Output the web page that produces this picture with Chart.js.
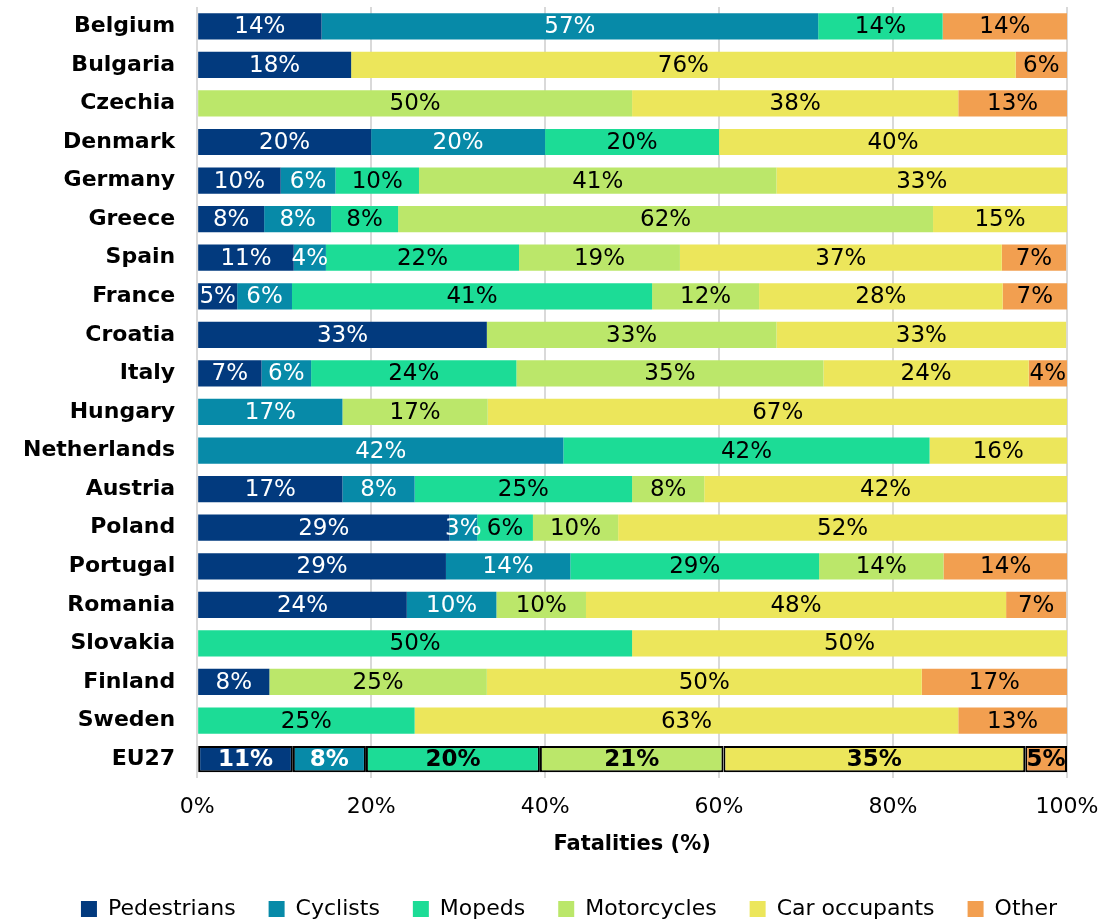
<!DOCTYPE html>
<html>
<head>
<meta charset="utf-8">
<script src="https://cdn.jsdelivr.net/npm/chart.js@4.4.1/dist/chart.umd.min.js"></script>
<style>
  body { margin: 0; background: #fff; }
  #wrap { width: 1105px; height: 922px; }
</style>
</head>
<body>
<div id="wrap"><canvas id="chart" width="1105" height="922"></canvas></div>
<script>
// Countries, top to bottom
const countries = ['Belgium', 'Bulgaria', 'Czechia', 'Denmark', 'Germany', 'Greece', 'Spain', 'France',
  'Croatia', 'Italy', 'Hungary', 'Netherlands', 'Austria', 'Poland', 'Portugal', 'Romania',
  'Slovakia', 'Finland', 'Sweden', 'EU27'];

// Share of fatalities (%) per road user group
const pedestrians  = [14.3, 17.7, 0, 20, 9.6, 7.7, 11.1, 4.6, 33.3, 7.4, 0, 0, 16.7, 29.0, 28.6, 24.1, 0, 8.3, 0, 11.0];
const cyclists     = [57.1, 0, 0, 20, 6.3, 7.7, 3.7, 6.3, 0, 5.7, 16.7, 42.1, 8.3, 3.2, 14.3, 10.3, 0, 0, 0, 8.4];
const mopeds       = [14.3, 0, 0, 20, 9.6, 7.7, 22.2, 41.4, 0, 23.6, 0, 42.1, 25, 6.4, 28.6, 0, 50, 0, 25, 20.0];
const motorcycles  = [0, 0, 50, 0, 41.1, 61.5, 18.5, 12.3, 33.3, 35.3, 16.7, 0, 8.3, 9.8, 14.3, 10.3, 0, 25, 0, 21.1];
const carOccupants = [0, 76.4, 37.5, 40, 33.4, 15.4, 37.0, 28.0, 33.3, 23.6, 66.7, 15.8, 41.7, 51.6, 0, 48.3, 50, 50, 62.5, 34.7];
const other        = [14.3, 5.9, 12.5, 0, 0, 0, 7.4, 7.4, 0, 4.4, 0, 0, 0, 0, 14.3, 6.9, 0, 16.7, 12.5, 4.8];

const xTicks = [0, 20, 40, 60, 80, 100];

const FONT = 'Verdana, "DejaVu Sans", sans-serif';
const lastIdx = countries.length - 1;

function series(label, data, color, labelColor) {
  return {
    label: label,
    data: data,
    backgroundColor: color,
    borderColor: data.map((v, i) => i === lastIdx ? '#000' : color),
    borderWidth: data.map((v, i) => i === lastIdx ? 2 : 0),
    borderSkipped: false,
    labelColor: labelColor
  };
}

// draw value labels in the middle of each segment
const valueLabels = {
  id: 'valueLabels',
  afterLayout(chart) {
    // legend sits a bit right of the canvas centre
    chart.legend.left += 35;
    chart.legend.right += 35;
  },
  afterDatasetsDraw(chart) {
    const ctx = chart.ctx;
    ctx.save();
    ctx.textAlign = 'center';
    ctx.textBaseline = 'middle';
    chart.data.datasets.forEach((ds, di) => {
      const meta = chart.getDatasetMeta(di);
      meta.data.forEach((bar, i) => {
        const v = ds.data[i];
        if (!v) return;
        ctx.font = (i === lastIdx ? 'bold ' : '') + '23px ' + FONT;
        ctx.fillStyle = ds.labelColor;
        ctx.fillText(Math.round(v) + '%', (bar.x + bar.base) / 2, bar.y + 1);
      });
    });
    ctx.restore();
  }
};

new Chart(document.getElementById('chart'), {
  type: 'bar',
  data: {
    labels: countries,
    datasets: [
      series('Pedestrians', pedestrians, '#023A7E', '#fff'),
      series('Cyclists', cyclists, '#078AA8', '#fff'),
      series('Mopeds', mopeds, '#1CDC96', '#000'),
      series('Motorcycles', motorcycles, '#BBE76A', '#000'),
      series('Car occupants', carOccupants, '#ECE65B', '#000'),
      series('Other', other, '#F29F50', '#000')
    ]
  },
  options: {
    indexAxis: 'y',
    responsive: false,
    animation: false,
    layout: { padding: { top: 7, right: 38, left: 1, bottom: -8 } },
    datasets: { bar: { barPercentage: 1, categoryPercentage: 0.68 } },
    scales: {
      x: {
        stacked: true,
        min: 0,
        max: 100,
        afterBuildTicks: axis => { axis.ticks = xTicks.map(v => ({ value: v })); },
        afterFit: axis => { axis.paddingLeft = 0; axis.paddingRight = 0; },
        ticks: { callback: v => v + '%', color: '#000', font: { family: FONT, size: 22 }, padding: 16 },
        grid: { color: '#d9d9d9', lineWidth: 2, drawTicks: false },
        border: { display: false },
        title: { display: true, text: 'Fatalities (%)', color: '#000', font: { family: FONT, size: 21, weight: 'bold' }, padding: { top: -5, bottom: 8 } }
      },
      y: {
        stacked: true,
        afterFit: axis => { axis.paddingTop = 0; axis.paddingBottom = 0; },
        ticks: { color: '#000', font: { family: FONT, size: 22, weight: 'bold' }, padding: 22 },
        grid: { display: false, drawTicks: false },
        border: { display: false }
      }
    },
    plugins: {
      legend: {
        position: 'bottom',
        labels: { color: '#000', font: { family: FONT, size: 22 }, boxWidth: 16, boxHeight: 16, padding: 33,
          generateLabels: chart => chart.data.datasets.map((ds, i) => ({
            text: ds.label, fillStyle: ds.backgroundColor, strokeStyle: ds.backgroundColor, lineWidth: 0, datasetIndex: i
          }))
        }
      },
      tooltip: { enabled: false }
    }
  },
  plugins: [valueLabels]
});
</script>
</body>
</html>
